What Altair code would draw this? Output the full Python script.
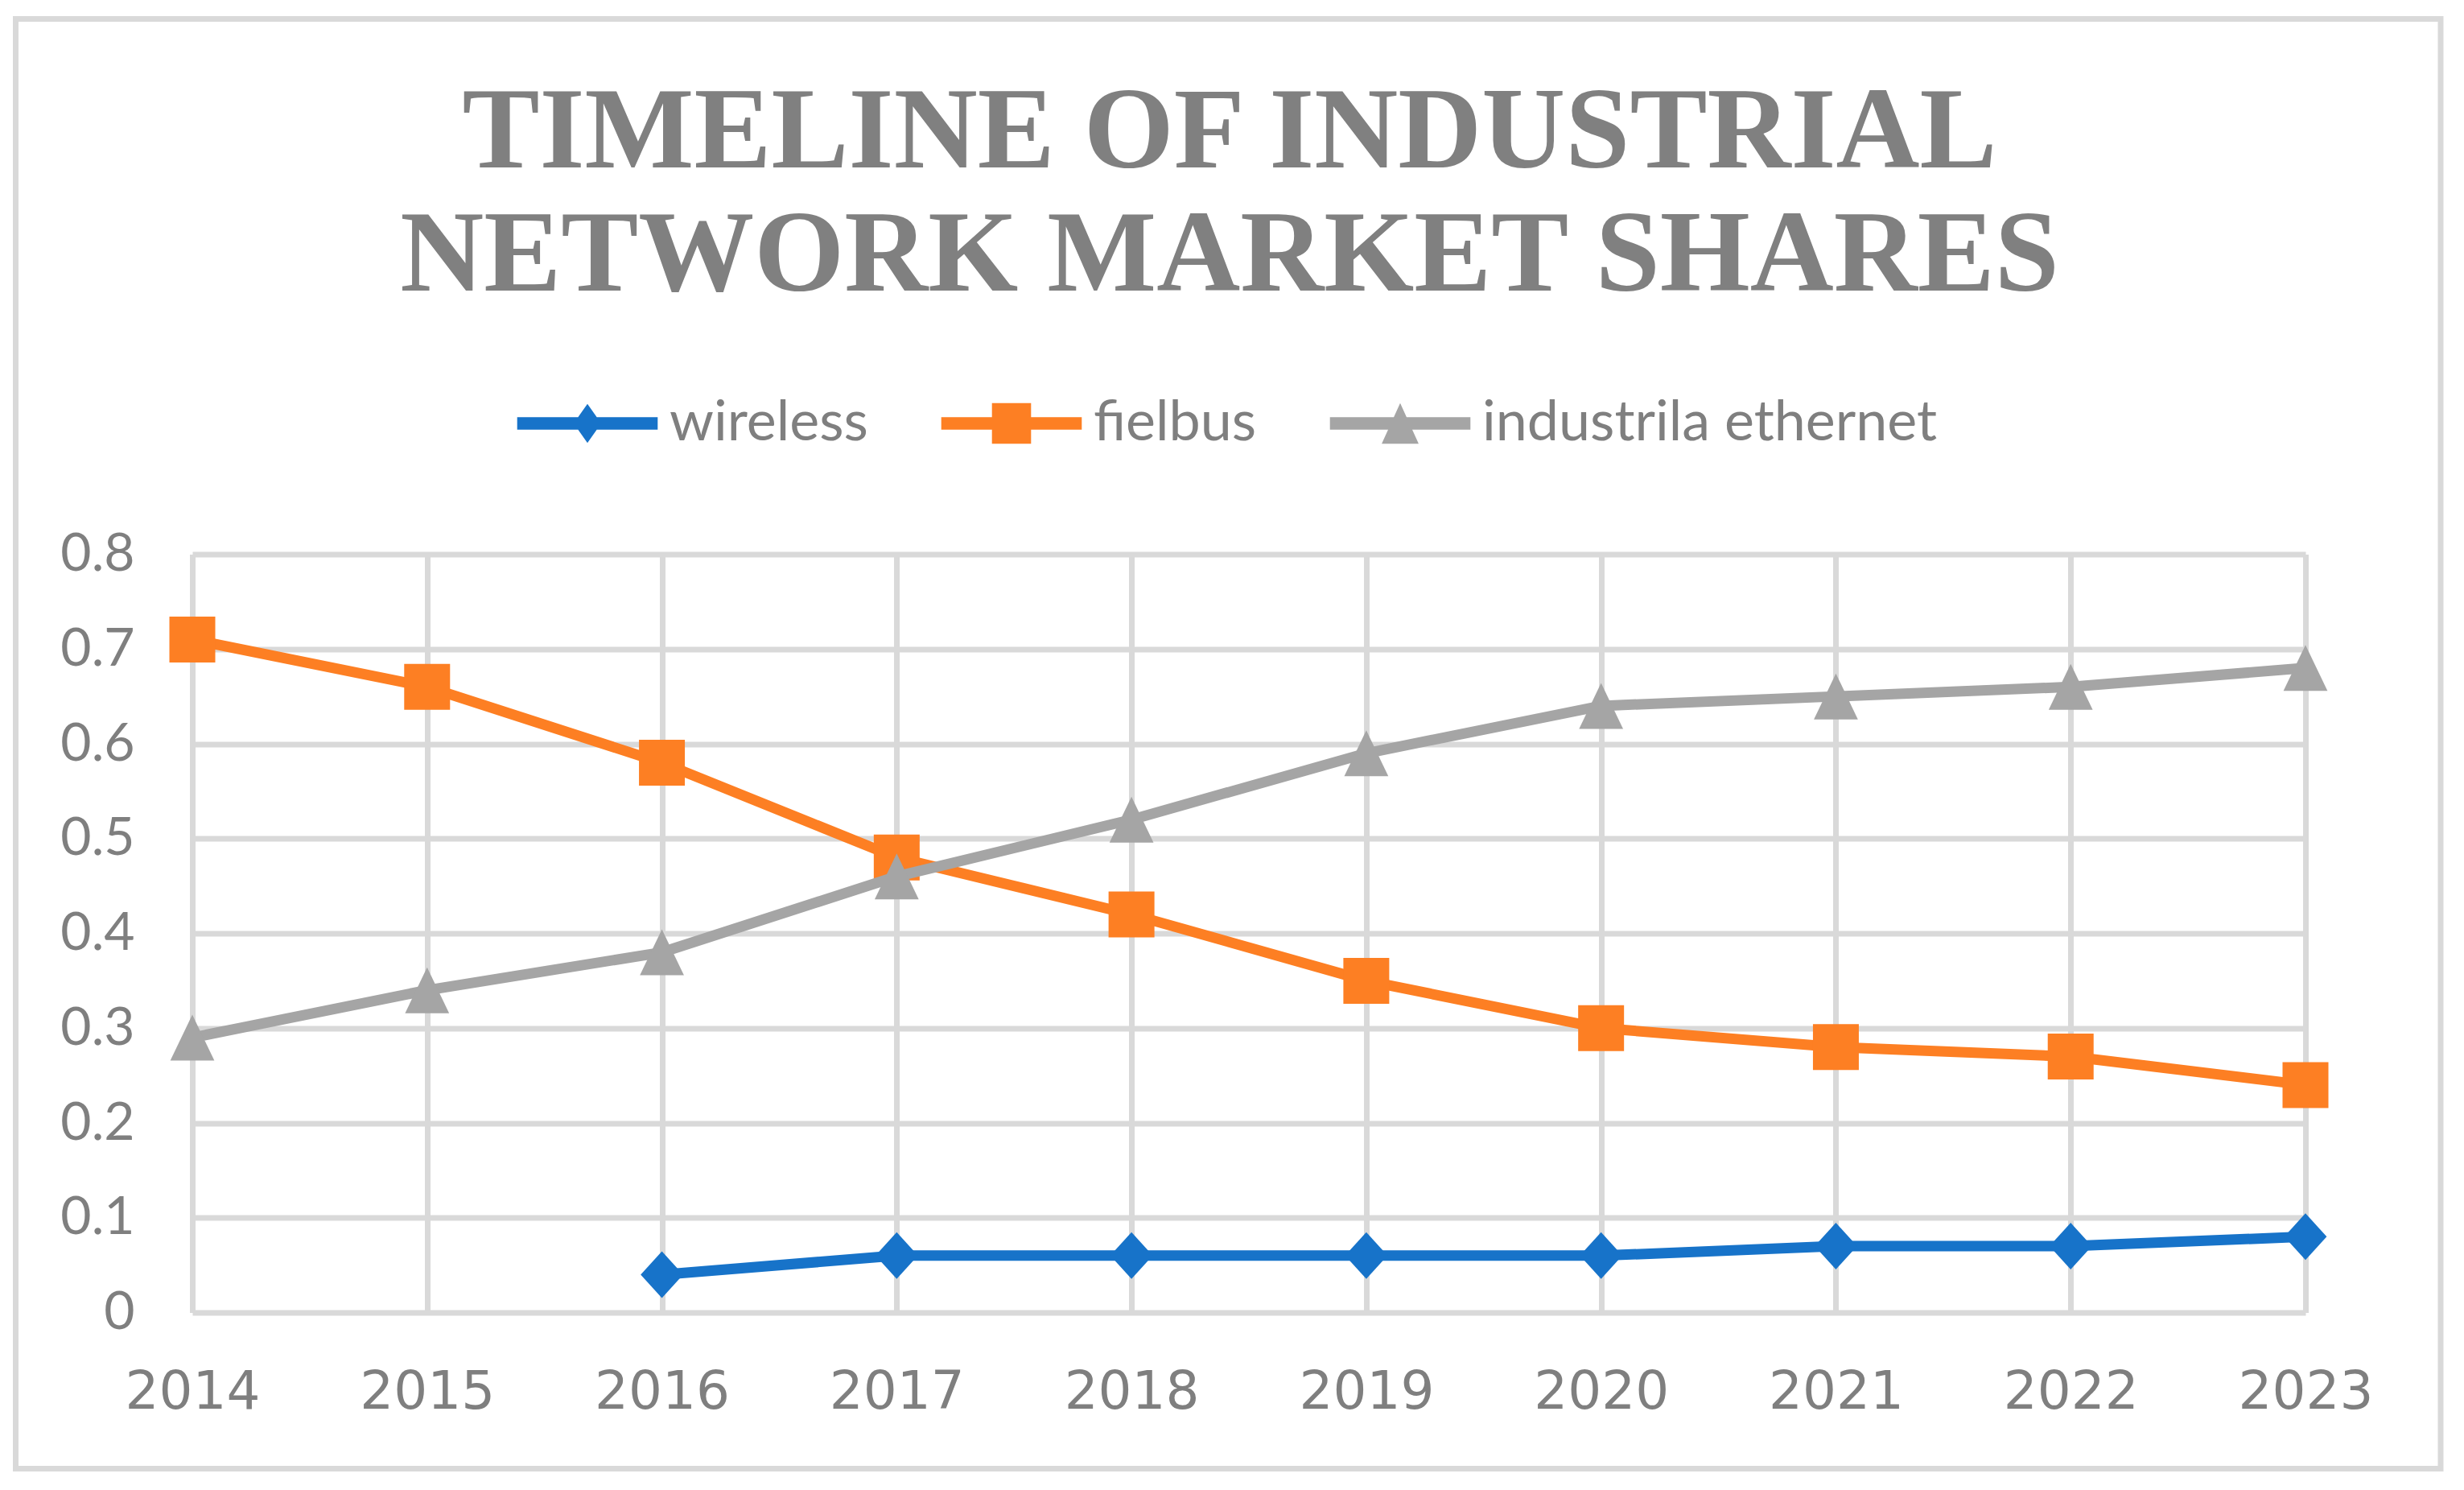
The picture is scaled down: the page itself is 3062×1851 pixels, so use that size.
import altair as alt
import pandas as pd

# ---- data ----
years = [2014, 2015, 2016, 2017, 2018, 2019, 2020, 2021, 2022, 2023]
wireless = [None, None, 0.04, 0.06, 0.06, 0.06, 0.06, 0.07, 0.07, 0.08]
fielbus = [0.71, 0.66, 0.58, 0.48, 0.42, 0.35, 0.30, 0.28, 0.27, 0.24]
ethernet = [0.29, 0.34, 0.38, 0.46, 0.52, 0.59, 0.64, 0.65, 0.66, 0.68]
series_names = ["wireless", "fielbus", "industrila ethernet"]
y_ticks = [0, 0.1, 0.2, 0.3, 0.4, 0.5, 0.6, 0.7, 0.8]
title_lines = ["TIMELINE OF INDUSTRIAL", "NETWORK MARKET SHARES"]

# ---- styles ----
colors = ["#1773C9", "#FD7F23", "#A5A5A5"]
point_shapes = [
    "M0,-1L0.91,0L0,1L-0.91,0Z",   # diamond
    "square",
    "M0,-1L0.96,1L-0.96,1Z",       # triangle
]
point_sizes = [3364, 3249, 3249]
legend_shapes = [
    "M-0.97,-0.085H0.97V0.085H-0.97Z M0,-0.27L0.19,0L0,0.27L-0.19,0Z",
    "M-0.97,-0.085H0.97V0.085H-0.97Z M-0.27,-0.28H0.27V0.28H-0.27Z",
    "M-0.97,-0.085H0.97V0.085H-0.97Z M0,-0.28L0.255,0.28L-0.255,0.28Z",
]
TEXT = "#7F7F7F"
GRID = "#D9D9D9"

rows = []
for name, vals in zip(series_names, [wireless, fielbus, ethernet]):
    for yr, v in zip(years, vals):
        if v is not None:
            rows.append({"year": yr, "value": v, "series": name})
df = pd.DataFrame(rows)

x_enc = alt.X(
    "year:Q",
    scale=alt.Scale(domain=[years[0], years[-1]], nice=False, zero=False),
    axis=alt.Axis(
        values=years, format="d", title=None, grid=True, gridColor=GRID,
        gridWidth=7, domain=False, ticks=False, labelFont="DejaVu Sans",
        labelFontSize=66, labelColor=TEXT, labelPadding=67, labelFlush=False,
        labelOverlap=False, labelBound=False,
    ),
)
y_enc = alt.Y(
    "value:Q",
    scale=alt.Scale(domain=[0, 0.8], nice=False, zero=True),
    axis=alt.Axis(
        values=y_ticks, format="~g", title=None, grid=True, gridColor=GRID,
        gridWidth=7, domain=False, ticks=False, labelFont="Lato",
        labelFontSize=66, labelColor=TEXT, labelPadding=72,
        labelOverlap=False, labelBound=False,
    ),
)

legend_def = alt.Legend(
    title=None, orient="none", legendX=401, legendY=-252.5,
    direction="horizontal", symbolSize=32400, symbolStrokeWidth=0,
    symbolOpacity=1, labelFont="Lato", labelFontSize=70,
    labelColor=TEXT, labelOffset=12, columnPadding=88, padding=0,
    labelLimit=1000,
)

base = alt.Chart(df)

# legend-only layer (draws nothing, provides the legend)
legend_layer = base.mark_point(filled=True, opacity=1, strokeWidth=0).encode(
    x=x_enc,
    y=y_enc,
    color=alt.Color(
        "series:N",
        scale=alt.Scale(domain=series_names, range=colors),
        legend=legend_def,
    ),
    shape=alt.Shape(
        "series:N",
        scale=alt.Scale(domain=series_names, range=legend_shapes),
        legend=legend_def,
    ),
).transform_filter("false")

layers = [legend_layer]
for name, c, shp, sz in zip(series_names, colors, point_shapes, point_sizes):
    sub = base.transform_filter(alt.datum.series == name)
    layers.append(sub.mark_line(color=c, strokeWidth=13).encode(x=x_enc, y=y_enc))
    layers.append(
        sub.mark_point(filled=True, shape=shp, size=sz, color=c, opacity=1, strokeWidth=0)
        .encode(x=x_enc, y=y_enc)
    )

border = alt.Chart(alt.Data(values=[{"b": 1}])).mark_rect(
    filled=False, fill=None, stroke=GRID, strokeWidth=7
).encode(
    x=alt.value(-219.5), x2=alt.value(2794), y=alt.value(-665), y2=alt.value(1136)
)
layers.append(border)

chart = alt.layer(*layers).properties(
    width=2626,
    height=942,
    autosize=alt.AutoSizeParams(type="none"),
    padding={"left": 231, "top": 680.5, "right": 189, "bottom": 213},
    background="white",
    title=alt.Title(
        text=title_lines, font="Liberation Serif", fontSize=144,
        fontWeight="bold", color="#808080", anchor="middle", frame="group",
        baseline="bottom", lineHeight=153, offset=0, dx=-24, dy=515,
    ),
).configure_view(stroke=None)

chart.save("out.html", embed_options={"renderer": "svg", "actions": False})
